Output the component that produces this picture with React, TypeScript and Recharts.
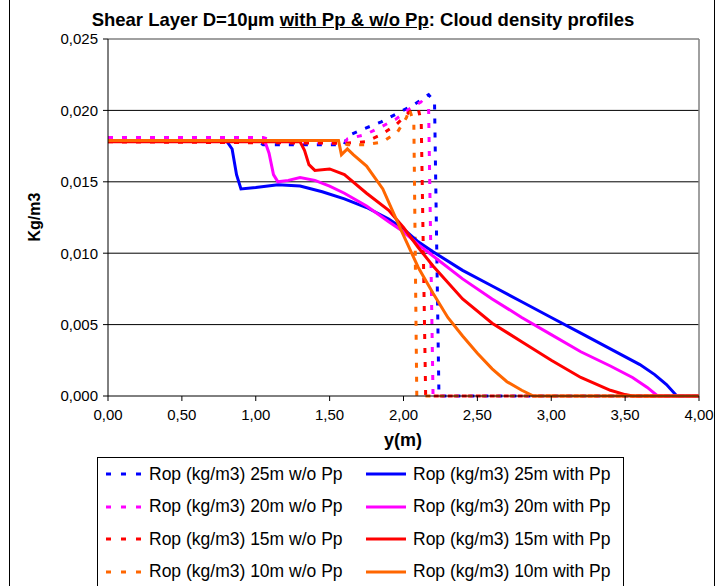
import React from 'react';
import { LineChart, Line, XAxis, YAxis, CartesianGrid, ReferenceLine } from 'recharts';

const FONT = '"Liberation Sans", Arial, sans-serif';
const BLUE = '#0000FF';
const MAGENTA = '#FF00FF';
const RED = '#FF0000';
const ORANGE = '#FF6600';

const X_TICKS = [0, 0.5, 1, 1.5, 2, 2.5, 3, 3.5, 4];
const Y_TICKS = [0, 0.005, 0.01, 0.015, 0.02, 0.025];
const GRID_VALUES = [0.005, 0.01, 0.015, 0.02];

// [y (m), density (kg/m3)]
const rop25Wo: [number, number][] = [
  [0, 0.0179], [1.0, 0.0179], [1.05, 0.0176], [1.6, 0.0176], [1.62, 0.0182], [1.73, 0.0187],
  [1.85, 0.0192], [1.96, 0.0198], [2.07, 0.0204], [2.17, 0.0211], [2.21, 0.0206], [2.24, 0], [4, 0],
];
const rop20Wo: [number, number][] = [
  [0, 0.0181], [1.05, 0.0181], [1.15, 0.0178], [1.6, 0.0177], [1.62, 0.018], [1.74, 0.0183],
  [1.84, 0.0188], [1.95, 0.0194], [2.04, 0.0201], [2.12, 0.0206], [2.17, 0.0201], [2.2, 0], [4, 0],
];
const rop15Wo: [number, number][] = [
  [0, 0.0178], [1.6, 0.0177], [1.74, 0.0178], [1.85, 0.0183], [1.95, 0.019], [2.04, 0.0199],
  [2.1, 0.0201], [2.12, 0.0192], [2.15, 0], [4, 0],
];
const rop10Wo: [number, number][] = [
  [0, 0.0179], [1.55, 0.0179], [1.62, 0.0176], [1.75, 0.0176], [1.86, 0.0178], [1.96, 0.0185],
  [2.02, 0.0195], [2.04, 0.0201], [2.07, 0.0191], [2.09, 0], [4, 0],
];

const rop25With: [number, number][] = [
  [0, 0.0179], [0.8, 0.0179], [0.84, 0.0173], [0.87, 0.0155], [0.9, 0.0145], [1.0, 0.0146],
  [1.15, 0.0148], [1.3, 0.0147], [1.45, 0.0143], [1.6, 0.0138], [1.75, 0.0132], [1.9, 0.0124],
  [2.0, 0.0117], [2.1, 0.0108], [2.2, 0.0101], [2.4, 0.0088], [2.6, 0.0077], [2.8, 0.0066],
  [3.0, 0.0055], [3.2, 0.0044], [3.4, 0.0033], [3.6, 0.0022], [3.7, 0.0015], [3.78, 0.0008],
  [3.85, 0], [4, 0],
];
const rop20With: [number, number][] = [
  [0, 0.0179], [1.06, 0.0179], [1.09, 0.017], [1.12, 0.0155], [1.15, 0.015], [1.22, 0.0151],
  [1.3, 0.0153], [1.4, 0.0151], [1.5, 0.0147], [1.6, 0.0142], [1.75, 0.0133], [1.9, 0.0122],
  [2.0, 0.0115], [2.1, 0.0106], [2.2, 0.0098], [2.4, 0.0082], [2.6, 0.0068], [2.8, 0.0055],
  [3.0, 0.0043], [3.2, 0.0031], [3.4, 0.0021], [3.55, 0.0013], [3.65, 0.0006], [3.72, 0], [4, 0],
];
const rop15With: [number, number][] = [
  [0, 0.0178], [1.3, 0.0178], [1.33, 0.0172], [1.36, 0.0162], [1.4, 0.0158], [1.5, 0.0159],
  [1.6, 0.0155], [1.75, 0.0142], [1.9, 0.013], [2.0, 0.0118], [2.1, 0.0104], [2.2, 0.0091],
  [2.4, 0.0068], [2.6, 0.0051], [2.8, 0.0038], [3.0, 0.0025], [3.2, 0.0013], [3.4, 0.0004],
  [3.5, 0.0001], [3.55, 0], [4, 0],
];
const rop10With: [number, number][] = [
  [0, 0.0179], [1.56, 0.0179], [1.58, 0.0169], [1.62, 0.0173], [1.66, 0.0169], [1.75, 0.0161],
  [1.86, 0.0145], [1.98, 0.0117], [2.1, 0.009], [2.2, 0.0072], [2.3, 0.0055], [2.4, 0.0042],
  [2.5, 0.003], [2.6, 0.0019], [2.7, 0.001], [2.8, 0.0004], [2.88, 0], [4, 0],
];

const toRows = (pts: [number, number][]) => pts.map(([x, v]) => ({ x, v }));

const SERIES = [
  { name: 'Rop (kg/m3) 25m w/o Pp', data: rop25Wo, color: BLUE, dashed: true },
  { name: 'Rop (kg/m3) 20m w/o Pp', data: rop20Wo, color: MAGENTA, dashed: true },
  { name: 'Rop (kg/m3) 15m w/o Pp', data: rop15Wo, color: RED, dashed: true },
  { name: 'Rop (kg/m3) 10m w/o Pp', data: rop10Wo, color: ORANGE, dashed: true },
  { name: 'Rop (kg/m3) 25m with Pp', data: rop25With, color: BLUE, dashed: false },
  { name: 'Rop (kg/m3) 20m with Pp', data: rop20With, color: MAGENTA, dashed: false },
  { name: 'Rop (kg/m3) 15m with Pp', data: rop15With, color: RED, dashed: false },
  { name: 'Rop (kg/m3) 10m with Pp', data: rop10With, color: ORANGE, dashed: false },
];

const DASH = '5 9';

function LegendBox() {
  const rows = [0, 1, 2, 3];
  return (
    <div style={{
      position: 'absolute', left: 97, top: 457, width: 527, height: 140,
      border: '1px solid #000', boxSizing: 'border-box', background: '#fff',
    }}>
      {rows.map(r => [SERIES[r], SERIES[r + 4]].map((s, c) => (
        <div key={s.name} style={{
          position: 'absolute', left: c === 0 ? 6 : 266, top: 5 + r * 32.5, height: 22,
          display: 'flex', alignItems: 'center', fontFamily: FONT, fontSize: 17.5, color: '#000',
          whiteSpace: 'nowrap',
        }}>
          <svg width={c === 0 ? 40 : 44} height={10} style={{ marginRight: 5 }}>
            <line x1={2} x2={c === 0 ? 40 : 42} y1={5} y2={5} stroke={s.color}
                  strokeWidth={3} strokeDasharray={s.dashed ? '5 10' : undefined} />
          </svg>
          {s.name}
        </div>
      )))}
    </div>
  );
}

export default function App() {
  const fmtX = (v: number) => v.toFixed(2).replace('.', ',');
  const fmtY = (v: number) => v.toFixed(3).replace('.', ',');
  return (
    <div style={{ position: 'absolute', left: 0, top: 0, width: 719, height: 586, background: '#fff', overflow: 'hidden' }}>
      <div style={{ position: 'absolute', left: 9, top: -2, width: 706, height: 600, border: '1px solid #000', boxSizing: 'border-box' }} />
      <div style={{
        position: 'absolute', left: 0, width: 726, top: 9, textAlign: 'center',
        fontFamily: FONT, fontWeight: 'bold', fontSize: 18.5, color: '#000',
      }}>
        Shear Layer D=10µm <u>with Pp &amp; w/o Pp</u>: Cloud density profiles
      </div>
      <div style={{
        position: 'absolute', left: 35, top: 217, transform: 'translate(-50%, -50%) rotate(-90deg)',
        fontFamily: FONT, fontWeight: 'bold', fontSize: 16, color: '#000',
      }}>
        Kg/m3
      </div>
      <div style={{
        position: 'absolute', left: 403, top: 440, transform: 'translate(-50%, -50%)',
        fontFamily: FONT, fontWeight: 'bold', fontSize: 18, color: '#000',
      }}>
        y(m)
      </div>
      <div style={{ position: 'absolute', left: 0, top: 0 }}>
        <LineChart width={719} height={586} margin={{ top: 39, right: 20, bottom: 160, left: 48 }}>
          <CartesianGrid horizontal vertical={false} stroke="#000" horizontalValues={GRID_VALUES} />
          <ReferenceLine y={0.025} stroke="#808080" strokeWidth={1.5} />
          <ReferenceLine x={4} stroke="#808080" strokeWidth={1.5} />
          <XAxis type="number" dataKey="x" domain={[0, 4]} ticks={X_TICKS} tickFormatter={fmtX}
                 height={30} tickSize={5} tickMargin={8} stroke="#000" interval={0}
                 tick={{ fill: '#000', fontSize: 15, fontFamily: FONT }} allowDuplicatedCategory={false} />
          <YAxis type="number" domain={[0, 0.025]} ticks={Y_TICKS} tickFormatter={fmtY}
                 width={60} tickSize={5} tickMargin={5} stroke="#000" interval={0}
                 tick={{ fill: '#000', fontSize: 15, fontFamily: FONT }} />
          {SERIES.map(s => (
            <Line key={s.name} data={toRows(s.data)} dataKey="v" type="linear" stroke={s.color}
                  strokeWidth={3} strokeDasharray={s.dashed ? DASH : undefined}
                  dot={false} activeDot={false} isAnimationActive={false} />
          ))}
        </LineChart>
      </div>
      <LegendBox />
    </div>
  );
}
